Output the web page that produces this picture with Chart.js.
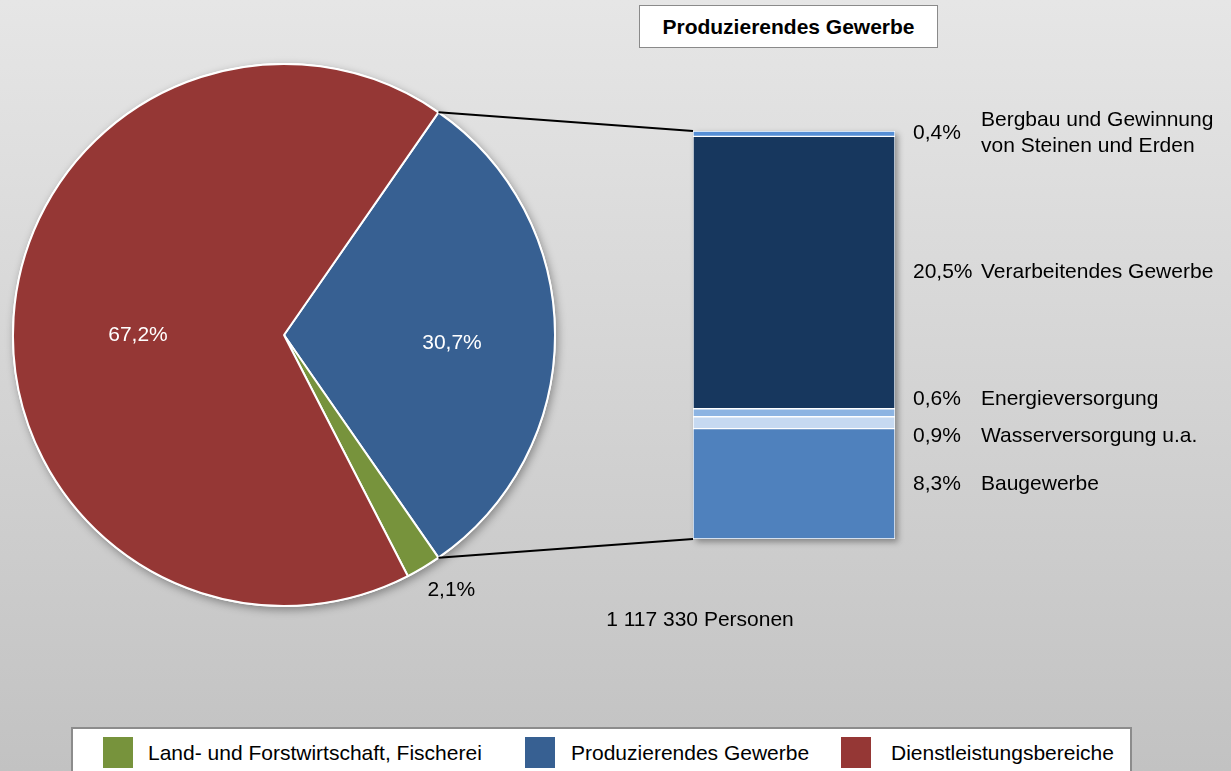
<!DOCTYPE html>
<html lang="de">
<head>
<meta charset="utf-8">
<script src="https://cdn.jsdelivr.net/npm/chart.js@4.4.1/dist/chart.umd.min.js"></script>
<style>
  html, body { margin: 0; padding: 0; }
  body { width: 1231px; height: 771px; overflow: hidden; font-family: "Liberation Sans", Arial, sans-serif; }
  #wrap { position: relative; width: 1231px; height: 771px; background: linear-gradient(#e6e6e6, #c2c2c2); }
  canvas { position: absolute; left: 0; top: 0; }
  #title { position: absolute; left: 639px; top: 5px; width: 297px; height: 41px; background: #fff;
           border: 1px solid #8a8a8a; font-weight: bold; font-size: 21px; line-height: 41px; text-align: center; }
  #total { position: absolute; left: 550px; width: 300px; top: 607px; text-align: center; font-size: 21px; }
  #legend { position: absolute; left: 71px; top: 727px; width: 1057px; height: 60px; background: #fff;
            border: 2px solid #8c8c8c; }
  .item { position: absolute; top: 8px; height: 31px; font-size: 21px; line-height: 31px; white-space: nowrap; }
  .box { position: absolute; left: 0; top: 0; width: 30px; height: 31px; }
  .item span.txt { position: absolute; top: 0; }
</style>
</head>
<body>
<div id="wrap">
  <canvas id="bar" width="1231" height="771"></canvas>
  <canvas id="pie" width="1231" height="771"></canvas>
  <div id="title"></div>
  <div id="total"></div>
  <div id="legend"></div>
</div>
<script>
// Kreis: Anteile der Wirtschaftsbereiche
const pieLabels = ['Produzierendes Gewerbe', 'Land- und Forstwirtschaft, Fischerei', 'Dienstleistungsbereiche'];
const pieValues = [30.7, 2.1, 67.2];
const pieColors = ['#376092', '#77933c', '#953735'];

// Säule: Produzierendes Gewerbe, von unten nach oben
const barLabels = ['Baugewerbe', 'Wasserversorgung u.a.', 'Energieversorgung', 'Verarbeitendes Gewerbe',
                   ['Bergbau und Gewinnung', 'von Steinen und Erden']];
const barValues = [8.3, 0.9, 0.6, 20.5, 0.4];
const barColors = ['#4f81bd', '#c6d9f1', '#8db4e2', '#17375e', '#558ed5'];

const titleText = 'Produzierendes Gewerbe';
const totalText = '1 117 330 Personen';
const legendOrder = [1, 0, 2];

const FONT = '21px "Liberation Sans", Arial, sans-serif';
const fmt = v => v.toFixed(1).replace('.', ',') + '%';

document.getElementById('title').textContent = titleText;
document.getElementById('total').textContent = totalText;

// Legende
const legendX = [[30, 75], [452, 498], [768, 818]];
const legend = document.getElementById('legend');
legendOrder.forEach((idx, k) => {
    const item = document.createElement('div');
    item.className = 'item';
    item.style.left = legendX[k][0] + 'px';
    item.innerHTML = `<span class="box" style="background:${pieColors[idx]}"></span>` +
        `<span class="txt" style="left:${legendX[k][1] - legendX[k][0]}px">${pieLabels[idx]}</span>`;
    legend.appendChild(item);
});

// --- Säule ---
const barShadow = {
    id: 'barShadow',
    beforeDatasetsDraw(chart) {
        const top = chart.getDatasetMeta(barValues.length - 1).data[0];
        const bottom = chart.getDatasetMeta(0).data[0];
        const ctx = chart.ctx;
        ctx.save();
        ctx.shadowColor = 'rgba(0,0,0,0.35)';
        ctx.shadowBlur = 6;
        ctx.shadowOffsetX = 3;
        ctx.shadowOffsetY = 3;
        ctx.fillStyle = '#fff';
        ctx.fillRect(top.x - top.width / 2, top.y, top.width, bottom.base - top.y);
        ctx.restore();
    }
};

const barText = {
    id: 'barText',
    afterDraw(chart) {
        const ctx = chart.ctx;
        const items = barValues.map((v, i) => {
            const el = chart.getDatasetMeta(i).data[0];
            return { i, y: (el.y + el.base) / 2 };
        }).sort((a, b) => a.y - b.y);
        // Beschriftungen auseinanderschieben, wenn sie sich überlappen
        const gap = 37;
        for (let n = 0; n < 20; n++) {
            for (let k = 1; k < items.length; k++) {
                const d = items[k].y - items[k - 1].y;
                if (d < gap) {
                    items[k - 1].y -= (gap - d) / 2;
                    items[k].y += (gap - d) / 2;
                }
            }
        }
        ctx.save();
        ctx.font = FONT;
        ctx.fillStyle = '#000';
        ctx.textAlign = 'left';
        ctx.textBaseline = 'middle';
        items.forEach(it => {
            ctx.fillText(fmt(barValues[it.i]), 913, it.y);
            const lines = [].concat(barLabels[it.i]);
            const y0 = it.y - (lines.length - 1) * 13;
            lines.forEach((t, j) => ctx.fillText(t, 981, y0 + j * 26));
        });
        ctx.restore();
    }
};

const barChart = new Chart(document.getElementById('bar'), {
    type: 'bar',
    data: {
        labels: [''],
        datasets: barValues.map((v, i) => ({
            label: [].concat(barLabels[i]).join(' '),
            data: [v],
            backgroundColor: barColors[i],
            borderColor: '#ffffff',
            borderWidth: 1,
            borderSkipped: false,
            barPercentage: 1,
            categoryPercentage: 1
        }))
    },
    options: {
        responsive: false,
        animation: false,
        layout: { padding: { left: 693, right: 336, top: 131, bottom: 232 } },
        scales: {
            x: { display: false, stacked: true },
            y: { display: false, stacked: true, min: 0, max: barValues.reduce((a, b) => a + b, 0) }
        },
        plugins: { legend: { display: false }, tooltip: { enabled: false } }
    },
    plugins: [barShadow, barText]
});

// --- Kreis ---
const pieTotal = pieValues.reduce((a, b) => a + b, 0);

const pieShadow = {
    id: 'pieShadow',
    beforeDatasetsDraw(chart) {
        const arc = chart.getDatasetMeta(0).data[0];
        const ctx = chart.ctx;
        ctx.save();
        ctx.shadowColor = 'rgba(0,0,0,0.35)';
        ctx.shadowBlur = 8;
        ctx.shadowOffsetX = 2;
        ctx.shadowOffsetY = 3;
        ctx.fillStyle = '#fff';
        ctx.beginPath();
        ctx.arc(arc.x, arc.y, arc.outerRadius + 1, 0, Math.PI * 2);
        ctx.fill();
        ctx.restore();
    }
};

const pieText = {
    id: 'pieText',
    afterDatasetsDraw(chart, args, opts) {
        const ctx = chart.ctx;
        ctx.save();
        ctx.font = FONT;
        ctx.textAlign = 'center';
        ctx.textBaseline = 'middle';
        chart.getDatasetMeta(0).data.forEach((arc, i) => {
            const mid = (arc.startAngle + arc.endAngle) / 2;
            const r = arc.outerRadius * opts.dist[i];
            ctx.fillStyle = opts.color[i];
            ctx.fillText(fmt(pieValues[i]), arc.x + r * Math.cos(mid) + opts.dx[i], arc.y + r * Math.sin(mid) + opts.dy[i]);
        });
        ctx.restore();
    }
};

// Verbindungslinien vom Kreissegment zur Säule
const connectors = {
    id: 'connectors',
    afterDraw(chart) {
        const arc = chart.getDatasetMeta(0).data[0];
        const top = barChart.getDatasetMeta(barValues.length - 1).data[0];
        const bottom = barChart.getDatasetMeta(0).data[0];
        const left = top.x - top.width / 2;
        const R = arc.outerRadius;
        const ctx = chart.ctx;
        ctx.save();
        ctx.strokeStyle = '#000';
        ctx.lineWidth = 2;
        ctx.beginPath();
        ctx.moveTo(arc.x + R * Math.cos(arc.startAngle), arc.y + R * Math.sin(arc.startAngle));
        ctx.lineTo(left, top.y);
        ctx.moveTo(arc.x + R * Math.cos(arc.endAngle), arc.y + R * Math.sin(arc.endAngle));
        ctx.lineTo(left, bottom.base);
        ctx.stroke();
        ctx.restore();
    }
};

new Chart(document.getElementById('pie'), {
    type: 'pie',
    data: {
        labels: pieLabels,
        datasets: [{
            data: pieValues,
            backgroundColor: pieColors,
            borderColor: '#ffffff',
            borderWidth: 2
        }]
    },
    options: {
        responsive: false,
        animation: false,
        rotation: 90 - pieValues[0] / pieTotal * 180,
        layout: { padding: { left: 12, right: 675, top: 63, bottom: 164 } },
        plugins: {
            legend: { display: false },
            tooltip: { enabled: false },
            pieText: {
                dist: [0.62, 1.1, 0.54],
                dx: [0, 14, 0],
                dy: [8, 0, 10],
                color: ['#ffffff', '#000000', '#ffffff']
            }
        }
    },
    plugins: [pieShadow, pieText, connectors]
});
</script>
</body>
</html>
